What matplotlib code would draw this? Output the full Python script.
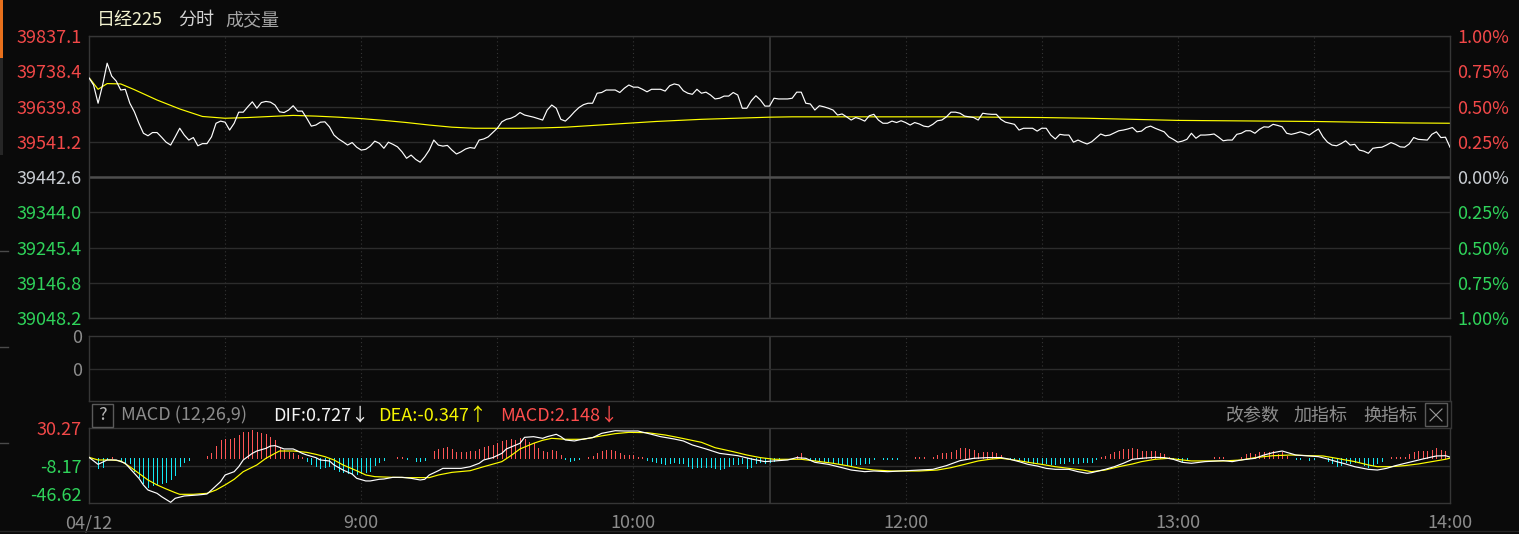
import matplotlib
matplotlib.use('Agg')
import matplotlib.pyplot as plt
import numpy as np
from matplotlib.patches import Rectangle
from matplotlib.lines import Line2D
import matplotlib.transforms as mtransforms

plt.rcParams['font.family'] = ['Noto Sans CJK SC', 'DejaVu Sans']

# ---------------- data ----------------
# one value per minute, 08:00 (04/12) .. 14:00 (lunch break removed)
price = [
    39720, 39700, 39649, 39700, 39761, 39725, 39711, 39686, 39688, 39649,
    39625, 39593, 39565, 39558, 39567, 39567, 39554, 39540, 39532, 39555,
    39579, 39560, 39546, 39553, 39530, 39536, 39536, 39555, 39593, 39599,
    39596, 39574, 39593, 39624, 39624, 39639, 39653, 39635, 39651, 39654,
    39652, 39644, 39625, 39623, 39630, 39642, 39627, 39627, 39607, 39585,
    39588, 39596, 39597, 39583, 39560, 39549, 39541, 39532, 39539, 39526,
    39518, 39520, 39529, 39543, 39537, 39523, 39540, 39534, 39527, 39513,
    39495, 39504, 39492, 39484, 39499, 39518, 39546, 39532, 39529, 39531,
    39518, 39507, 39513, 39521, 39525, 39523, 39546, 39549, 39555, 39567,
    39579, 39597, 39604, 39607, 39613, 39623, 39616, 39613, 39610, 39606,
    39602, 39630, 39644, 39635, 39604, 39599, 39611, 39625, 39637, 39645,
    39649, 39649, 39677, 39679, 39686, 39686, 39686, 39679, 39691, 39700,
    39694, 39694, 39688, 39681, 39688, 39688, 39688, 39683, 39698, 39703,
    39700, 39684, 39677, 39674, 39688, 39677, 39680, 39672, 39661, 39663,
    39669, 39669, 39679, 39672, 39635, 39635, 39656, 39670, 39658, 39641,
    39641, 39663, 39661, 39661, 39661, 39663, 39680, 39680, 39649, 39647,
    39630, 39642, 39639, 39635, 39630, 39616, 39619, 39611, 39602, 39609,
    39605, 39599, 39614, 39618, 39602, 39593, 39593, 39599, 39595, 39600,
    39595, 39588, 39595, 39591, 39585, 39583, 39590, 39600, 39602, 39611,
    39624, 39624, 39621, 39613, 39611, 39609, 39602, 39621, 39619, 39618,
    39618, 39604, 39596, 39593, 39590, 39574, 39579, 39579, 39579, 39571,
    39579, 39579, 39560, 39549, 39562, 39560, 39560, 39540, 39546, 39540,
    39535, 39541, 39552, 39563, 39558, 39560, 39566, 39572, 39574, 39577,
    39581, 39569, 39571, 39581, 39585, 39579, 39574, 39569, 39555, 39548,
    39540, 39543, 39548, 39565, 39551, 39560, 39560, 39561, 39563, 39554,
    39544, 39546, 39546, 39562, 39565, 39572, 39572, 39565, 39576, 39583,
    39582, 39590, 39587, 39583, 39565, 39562, 39565, 39569, 39565, 39560,
    39569, 39577, 39555, 39540, 39532, 39530, 39536, 39544, 39532, 39534,
    39518, 39515, 39509, 39523, 39525, 39526, 39532, 39539, 39534, 39527,
    39526, 39535, 39553, 39548, 39547, 39546, 39562, 39569, 39553, 39554,
    39526,
]

avg_t = [0, 2, 4, 7, 10, 15, 20, 25, 30, 35, 40, 45, 50, 55, 60, 65, 70, 75, 80, 85,
         90, 95, 100, 105, 110, 115, 120, 125, 130, 135, 140, 145, 150, 155, 160,
         170, 180, 190, 200, 210, 220, 230, 240, 250, 260, 270, 280, 290, 300]
avg_v = [39721, 39688, 39704, 39703, 39687, 39658, 39633, 39612, 39607, 39609,
         39612, 39615, 39613, 39610, 39606, 39601, 39595, 39588, 39582, 39579,
         39579, 39579, 39580, 39582, 39586, 39590, 39594, 39598, 39601, 39604,
         39606, 39608, 39610, 39611, 39611, 39611, 39611, 39611, 39610, 39609,
         39607, 39604, 39601, 39600, 39599, 39598, 39596, 39594, 39593]

macd_hist = [
    0, -0.5, -10, -9, -1, 1, 0, -2, -4, -5.6,
    -14, -19.3, -26, -30, -27.8, -27, -26, -24.4, -22, -17.6,
    -8, -4, -2.2, -0.5, -0.5, 0, 2.2, 4.6, 12.1, 18.3,
    19.3, 19.3, 20, 23.4, 26.1, 26.8, 28.5, 26.1, 25.1, 24.1,
    21.7, 18.3, 11.4, 8, 6.3, 5.3, 2.9, 1.2, -2.9, -6.7,
    -8, -10, -9, -8, -11.8, -13.2, -14.2, -15.2, -16.9, -16.6,
    -15.9, -14.2, -13.2, -7.3, -3.9, -2.2, -0.5, 0, 0.8, 0.8,
    -1.2, -0.5, -3.2, -3.2, -1.9, -0.5, 7.3, 9, 10.4, 10.8,
    9, 5.6, 6.3, 6.3, 7, 7.3, 9, 11.4, 12.5, 13.2,
    14.9, 17.3, 18.3, 19.3, 18.3, 20, 19.3, 16.6, 14.9, 10.4,
    7, 5.6, 8, 7, 2.9, -1.2, -2.9, -2.6, -1.2, 0,
    1.2, 2.2, 5.3, 7, 8, 8, 7, 4.6, 2.9, 2.9,
    2.9, 0.8, 0.5, -2.2, -3.2, -3.9, -5.6, -6.3, -5, -4.6,
    -5, -5.6, -8, -10, -9, -9, -9, -9.7, -10.8, -11.4,
    -10.8, -8, -6.7, -6.3, -5.6, -10.8, -9, -5.6, -4.6, -5.6,
    -4.6, -3.2, -2.2, -0.5, 0, 0, 2.2, 4.6, -0.5, -1.2,
    -2.2, -3.2, -3.2, -3.9, -5, -5.6, -6.7, -7.3, -7.3, -6.7,
    -6.3, -5.6, -5.6, -1.5, -0.5, -1.2, -1.2, -1.2, -1.2, 0,
    0, 0, 0.5, 0.5, 0.5, 0, 1.2, 2.9, 4.6, 4.6,
    5.6, 8, 9.7, 10.4, 9, 8, 4.6, 5.6, 5.6, 5.6,
    4.6, 2.9, 0, -1.2, -1.2, -2.2, -3.2, -4.6, -5, -4.6,
    -5.6, -5.6, -6.3, -6.3, -5.6, -5.6, -3.2, -5, -5, -4.6,
    -4.6, -3.9, -1.2, 0.5, 2.2, 3.9, 5.6, 7, 9, 9,
    9.7, 9, 7, 7, 7, 7, 4.6, 3.6, 1.2, -1.2,
    -1.2, -3.2, -2.2, -0.5, -0.5, -0.5, 0, 0, 0.5, 0.5,
    0.5, -0.5, -0.5, 0, 1.2, 3.9, 4.6, 3.6, 5.6, 6.3,
    6.3, 7, 3.6, 5.6, 2.2, 0, -1.2, -1.2, -0.5, -2.2,
    -1.5, -0.5, -0.3, -2.9, -5.6, -8, -7.3, -4.6, -5.6, -3.9,
    -4.6, -7.3, -9, -7.3, -5.6, -3.2, -0.3, 1.2, 1.2, 1.2,
    1.2, 3.6, 6.3, 7.3, 7, 7, 8, 9.7, 8, 7,
    2.2,
]

dif_t = [0, 2, 4, 6, 8, 9, 11, 12, 13, 15, 16, 18, 19, 21, 24, 26, 27, 29, 30, 32,
         33, 34, 36, 37, 39, 40, 41, 42, 43, 45, 46, 47, 48, 50, 51, 53, 54, 56, 58, 59,
         61, 62, 64, 65, 67, 69, 71, 73, 74, 75, 77, 78, 82, 84, 86, 87, 89, 91, 92, 95,
         96, 98, 100, 101, 103, 104, 105, 107, 109, 111, 113, 116, 118, 121, 124, 126,
         129, 131, 133, 136, 139, 143, 146, 149, 151, 154, 156, 158, 160, 163, 166, 168,
         171, 173, 176, 179, 182, 186, 189, 192, 195, 198, 201, 203, 205, 207, 209, 211,
         213, 216, 218, 220, 221, 224, 226, 228, 230, 232, 235, 237, 239, 241, 243, 246,
         250, 252, 254, 257, 259, 261, 263, 264, 266, 268, 271, 273, 275, 277, 279, 282,
         284, 286, 288, 291, 294, 297, 299, 300]
dif_v = [0.5, -6.7, -2.2, -2.2, -5.6, -10.8, -21, -27.9, -33, -36.4, -39.8, -45.6, -41.5,
         -39.1, -38.1, -37.1, -33, -24.4, -17.6, -14.2, -9.1, -2.2, 4.6, 7, 9.7, 12.1,
         12.5, 10.8, 9.1, 9.1, 7, 4.6, 2.9, 0.2, -2.2, -3.2, -7.3, -12.5, -16.6, -21,
         -23.7, -23.7, -22, -21.7, -20, -20, -21, -22.7, -22, -17.6, -13.2, -10.8, -10.8,
         -9.1, -5.6, -2.2, 0.2, 4.6, 9.1, 14.9, 21, 21.7, 20, 21.7, 24.1, 21.7, 18.3,
         17.3, 19.3, 20.7, 25.1, 27.8, 27.5, 27.5, 24.1, 21.7, 19.3, 17.3, 13.2, 9.1,
         4.6, 2.2, -1.2, -3.9, -3.2, -2.2, 0.2, -0.5, -4.6, -6.7, -10.1, -12.5, -14.2,
         -13.5, -14.2, -13.5, -12.8, -11.8, -8, -2.9, -0.5, 0.2, 0.3, -1.5, -3.9, -6.7,
         -8.4, -10.8, -11.8, -11.8, -14.2, -15.9, -15.2, -11.8, -9.1, -5.6, -1.5, -0.5,
         0.5, 0.2, -1.5, -4.6, -5.6, -3.9, -2.9, -3.9, -2.2, -0.5, 2.9, 5.3, 7, 5.6, 2.9,
         2.2, 1.2, -1.2, -3.9, -6.3, -9.1, -11.8, -12.5, -10.8, -8, -4.6, -1.2, 1.9, 2.2,
         0.727]

dea_t = [0, 2, 5, 7, 9, 11, 13, 15, 17, 19, 20, 23, 26, 28, 30, 32, 34, 37, 39, 41,
         42, 45, 48, 50, 52, 54, 56, 59, 61, 63, 67, 71, 75, 77, 80, 84, 87, 91, 93, 95,
         98, 100, 102, 105, 109, 112, 116, 119, 123, 127, 130, 135, 138, 142, 145, 148,
         151, 157, 160, 164, 167, 170, 173, 177, 183, 187, 190, 193, 196, 199, 201, 204,
         207, 210, 213, 216, 219, 221, 224, 227, 230, 232, 235, 238, 241, 243, 250, 254,
         257, 261, 265, 269, 272, 275, 279, 282, 284, 287, 290, 293, 296, 299, 300]
dea_v = [0.5, -2.2, -2.2, -3.2, -9.1, -15.9, -22.7, -27.8, -31.9, -35.7, -37.4, -37.4,
         -36.4, -33, -27.8, -22, -14.2, -7.3, -0.5, 4.6, 7, 7, 5.6, 3.6, 1.2, -2.2, -7.3,
         -13.2, -17.6, -19.3, -20, -20.3, -20.3, -17.6, -14.9, -13.2, -9.1, -3.9, 2.2,
         9.1, 14.9, 18, 20, 19, 19, 21.7, 24.8, 26.1, 25.8, 23.4, 20.7, 15.9, 10.4, 6.3,
         2.9, 0.2, -1.5, -1.5, -3.2, -5.6, -8, -10.8, -12.5, -13.5, -13.5, -12.5, -10.1,
         -6.7, -3.2, -1.2, -0.5, -2.2, -4.6, -6.7, -9.1, -10.8, -12.5, -14.2, -12.5,
         -9.1, -6.3, -3.9, -1.5, -0.5, -2.2, -3.2, -3.2, -2.2, 0.2, 2.2, 2.9, 2.2, 1.9,
         -0.5, -3.9, -7.3, -9.1, -9.1, -8, -6.3, -3.9, -1.5, -0.347]

price_labels = ['39837.1', '39738.4', '39639.8', '39541.2', '39442.6',
                '39344.0', '39245.4', '39146.8', '39048.2']
pct_labels = ['1.00%', '0.75%', '0.50%', '0.25%', '0.00%',
              '0.25%', '0.50%', '0.75%', '1.00%']
macd_labels = ['30.27', '-8.17', '-46.62']
time_ticks = [0, 60, 120, 180, 240, 300]
time_labels = ['04/12', '9:00', '10:00', '12:00', '13:00', '14:00']
grid_minutes = [30, 60, 90, 120, 180, 210, 240, 270]
break_minute = 150

# ---------------- style ----------------
W, H = 1519, 534
BG = '#0a0a0a'
GRID = '#2c2c2c'
BORDER = '#363636'
RED = '#f24848'
GREEN = '#2fd35a'
NEUTRAL = '#c9cdd2'
GREY = '#8c8c8c'
FS = 13
LW = 0.85

fig = plt.figure(figsize=(W / 100, H / 100), dpi=100, facecolor=BG)


def rect(x0, y0, x1, y1):
    return [x0 / W, 1 - y1 / H, (x1 - x0) / W, (y1 - y0) / H]


def fx(x):
    return x / W


def fy(y):
    return 1 - y / H


def style_axes(a):
    a.set_facecolor(BG)
    for s in a.spines.values():
        s.set_color(BORDER)
        s.set_linewidth(1)
    a.set_xlim(0, 300)
    a.tick_params(axis='both', length=0, labelsize=FS)
    a.set_xticks([])
    for m in grid_minutes:
        a.axvline(m, color='#353535', lw=0.8, ls=(0, (1, 2.5)), zorder=0)
    a.axvline(break_minute, color='#3c3c3c', lw=1.2, zorder=0)


# ---------- main price panel ----------
ax = fig.add_axes(rect(89, 36, 1450, 318))
style_axes(ax)
pvals = [float(s) for s in price_labels]
ax.set_ylim(min(pvals), max(pvals))
for v, lab in zip(pvals, price_labels):
    if lab == '39442.6':
        ax.axhline(v, color='#4e4e4e', lw=1.8, zorder=0)
    else:
        ax.axhline(v, color=GRID, lw=1, zorder=0)
minutes = np.arange(len(price))
ax.plot(minutes, price, color='white', lw=LW, zorder=3)
ax.plot(avg_t, avg_v, color='#ffff00', lw=LW, zorder=2)
ax.set_yticks(pvals)
ax.set_yticklabels(price_labels)
ax.tick_params(axis='y', pad=5)
cols = [RED] * 4 + [NEUTRAL] + [GREEN] * 4
for lbl, c in zip(ax.get_yticklabels(), cols):
    lbl.set_color(c)

ax2 = ax.twinx()
ax2.set_ylim(ax.get_ylim())
ax2.set_yticks(pvals)
ax2.set_yticklabels(pct_labels)
ax2.tick_params(axis='y', length=0, pad=5, labelsize=FS)
for s in ax2.spines.values():
    s.set_visible(False)
for lbl, c in zip(ax2.get_yticklabels(), cols):
    lbl.set_color(c)

# ---------- middle (volume) panel ----------
axv = fig.add_axes(rect(89, 336, 1450, 401))
style_axes(axv)
axv.set_ylim(0, 2)
axv.axhline(1, color=GRID, lw=1, zorder=0)
axv.set_yticks([2, 1])
axv.set_yticklabels(['0', '0'])
axv.tick_params(axis='y', pad=5, colors=GREY)

# ---------- MACD panel ----------
axm = fig.add_axes(rect(89, 428.3, 1450, 503.3))
style_axes(axm)
mvals = [float(s) for s in macd_labels]
axm.set_ylim(min(mvals), max(mvals))
axm.axhline(mvals[1], color=GRID, lw=1, zorder=0)
hist = np.array(macd_hist)
pos = hist > 0
neg = hist < 0
axm.vlines(minutes[pos], 0, hist[pos], color='#ff5656', lw=0.72, antialiased=False, zorder=2)
axm.vlines(minutes[neg], 0, hist[neg], color='#14e8f4', lw=0.72, antialiased=False, zorder=2)
axm.plot(dea_t, dea_v, color='#ffff00', lw=LW, zorder=3)
axm.plot(dif_t, dif_v, color='white', lw=LW, zorder=4)
axm.set_yticks(mvals)
axm.set_yticklabels(macd_labels)
axm.tick_params(axis='y', pad=5)
for lbl, c in zip(axm.get_yticklabels(), [RED, GREEN, GREEN]):
    lbl.set_color(c)
last = axm.get_yticklabels()[-1]
last.set_transform(last.get_transform() +
                   mtransforms.ScaledTranslation(0, 9 / 100, fig.dpi_scale_trans))
axm.set_xticks(time_ticks)
axm.set_xticklabels(time_labels)
axm.tick_params(axis='x', length=0, pad=8, colors=GREY, labelsize=FS)

# ---------- header texts ----------
fig.text(fx(97), fy(20), '日经225', color='#f2f2cf', fontsize=FS, va='center', ha='left')
fig.text(fx(178), fy(20), '分时', color='#d4d4d4', fontsize=FS, va='center', ha='left')
fig.text(fx(225), fy(20), '成交量', color='#a6a6a6', fontsize=FS, va='center', ha='left')

hy = 415.5
fig.patches.append(Rectangle((fx(92), fy(427)), 21 / W, 23 / H, transform=fig.transFigure,
                             facecolor='none', edgecolor='#5a5a5a', lw=1))
fig.text(fx(102.5), fy(hy), '?', color='#b4b4b4', fontsize=FS, va='center', ha='center')
fig.text(fx(121), fy(hy), 'MACD (12,26,9)', color=GREY, fontsize=FS, va='center', ha='left')
fig.text(fx(273), fy(hy), 'DIF:0.727↓', color='#f4f4f4', fontsize=FS, va='center', ha='left')
fig.text(fx(378), fy(hy), 'DEA:-0.347↑', color='#f5f500', fontsize=FS, va='center', ha='left')
fig.text(fx(500), fy(hy), 'MACD:2.148↓', color='#ff4d4d', fontsize=FS, va='center', ha='left')
fig.text(fx(1226), fy(hy), '改参数', color=GREY, fontsize=FS, va='center', ha='left')
fig.text(fx(1294), fy(hy), '加指标', color=GREY, fontsize=FS, va='center', ha='left')
fig.text(fx(1363), fy(hy), '换指标', color=GREY, fontsize=FS, va='center', ha='left')
fig.patches.append(Rectangle((fx(1425), fy(426)), 22 / W, 23 / H, transform=fig.transFigure,
                             facecolor='none', edgecolor='#5a5a5a', lw=1))
fig.lines.append(Line2D([fx(1430), fx(1442)], [fy(409), fy(421)], transform=fig.transFigure,
                        color='#9a9a9a', lw=0.8))
fig.lines.append(Line2D([fx(1430), fx(1442)], [fy(421), fy(409)], transform=fig.transFigure,
                        color='#9a9a9a', lw=0.8))

# right border of header row
fig.lines.append(Line2D([fx(1450.5), fx(1450.5)], [fy(401), fy(428)], transform=fig.transFigure,
                        color=BORDER, lw=1))

# ---------- window decorations ----------
fig.patches.append(Rectangle((0, fy(58)), 3 / W, 58 / H, transform=fig.transFigure,
                             facecolor='#e8701c', edgecolor='none'))
fig.patches.append(Rectangle((0, fy(155)), 3 / W, 97 / H, transform=fig.transFigure,
                             facecolor='#262626', edgecolor='none'))
for yy in (251, 347, 443):
    fig.lines.append(Line2D([0, fx(8)], [fy(yy), fy(yy)], transform=fig.transFigure,
                            color='#4a4a4a', lw=1))
fig.lines.append(Line2D([0, 1], [fy(531), fy(531)], transform=fig.transFigure,
                        color='#262626', lw=1))

fig.savefig('out.png', dpi=100, facecolor=BG)
